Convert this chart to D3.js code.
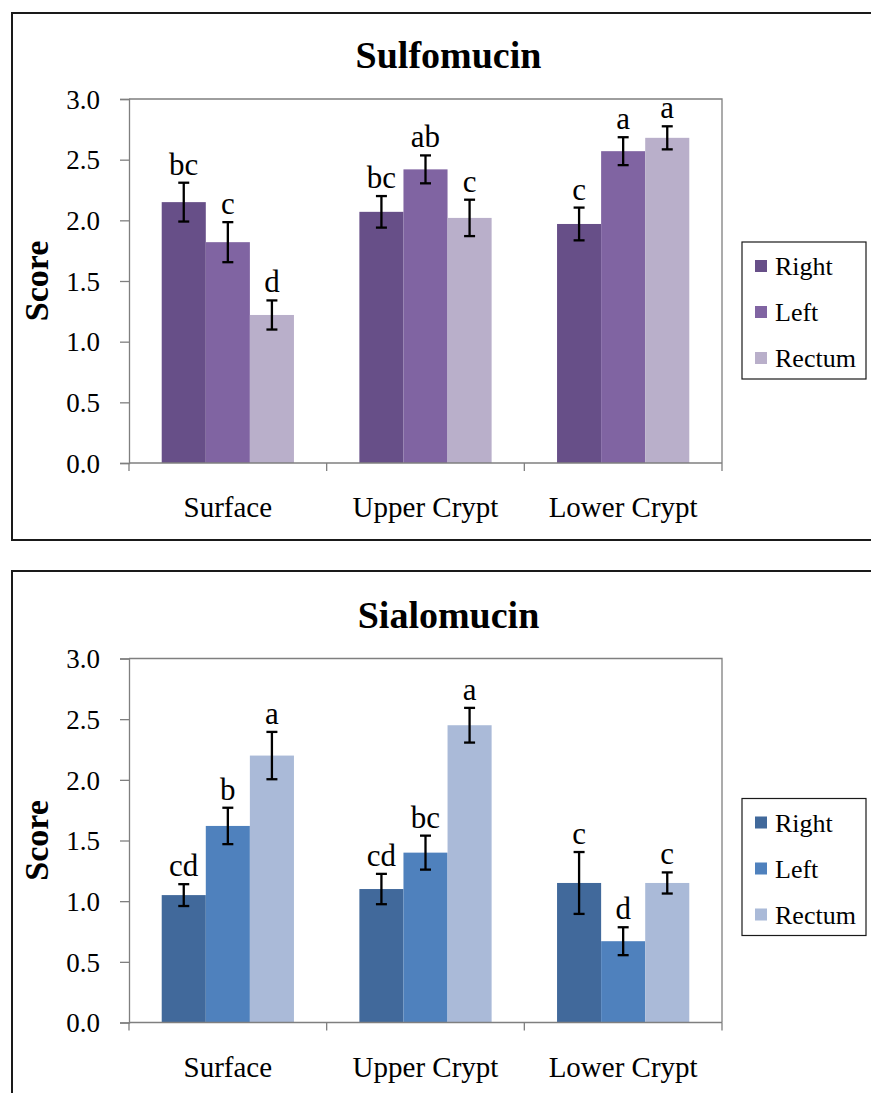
<!DOCTYPE html>
<html>
<head>
<meta charset="utf-8">
<script src="https://cdn.jsdelivr.net/npm/d3@7"></script>
<style>
  html, body { margin: 0; padding: 0; background: #fff; }
  svg { display: block; }
</style>
</head>
<body>
<svg id="chart" width="871" height="1093"></svg>
<script>
// Regions of the colon crypt and the three sampling sites
const categories = ["Surface", "Upper Crypt", "Lower Crypt"];
const series = ["Right", "Left", "Rectum"];
const yTicks = [0, 0.5, 1.0, 1.5, 2.0, 2.5, 3.0];

// Sulfomucin scores (mean, SE) and significance letters
const sulfoRight = [2.15, 2.07, 1.97];
const sulfoLeft = [1.82, 2.42, 2.57];
const sulfoRectum = [1.22, 2.02, 2.68];
const sulfoRightErr = [0.16, 0.13, 0.135];
const sulfoLeftErr = [0.165, 0.115, 0.115];
const sulfoRectumErr = [0.12, 0.15, 0.095];
const sulfoRightLetters = ["bc", "bc", "c"];
const sulfoLeftLetters = ["c", "ab", "a"];
const sulfoRectumLetters = ["d", "c", "a"];

// Sialomucin scores (mean, SE) and significance letters
const sialoRight = [1.05, 1.10, 1.15];
const sialoLeft = [1.62, 1.40, 0.67];
const sialoRectum = [2.20, 2.45, 1.15];
const sialoRightErr = [0.09, 0.125, 0.255];
const sialoLeftErr = [0.15, 0.14, 0.115];
const sialoRectumErr = [0.195, 0.143, 0.087];
const sialoRightLetters = ["cd", "cd", "c"];
const sialoLeftLetters = ["b", "bc", "d"];
const sialoRectumLetters = ["a", "a", "c"];

const sulfoColors = ["#674f88", "#8064a2", "#b9afca"];
const sialoColors = ["#41699b", "#4f81bd", "#aabad8"];

const SERIF = "'Liberation Serif', 'Times New Roman', Times, Tinos, 'DejaVu Serif', 'Noto Serif', serif";

const svg = d3.select("#chart").attr("font-family", SERIF);

function drawPanel(opts) {
  const g = svg.append("g").attr("transform", `translate(0,${opts.offsetY})`);

  // outer chart frame (extends past the page on the right)
  g.append("rect")
    .attr("x", 12).attr("y", opts.frameTop)
    .attr("width", 900).attr("height", opts.frameHeight)
    .attr("fill", "none").attr("stroke", "#1a1a1a").attr("stroke-width", 2);

  const plot = { left: 129, right: 722, top: 99, bottom: 463 };

  const x0 = d3.scaleBand().domain(categories)
    .range([plot.left, plot.right])
    .paddingInner(0.331).paddingOuter(0.1655);
  const x1 = d3.scaleBand().domain(series).range([0, x0.bandwidth()]).padding(0);
  const y = d3.scaleLinear().domain([0, 3]).range([plot.bottom, plot.top]);

  // plot-area border (top and right)
  g.append("path")
    .attr("d", `M${plot.left},${plot.top}H${plot.right}V${plot.bottom}`)
    .attr("fill", "none").attr("stroke", "#7f7f7f").attr("stroke-width", 1.3);

  const rows = [];
  categories.forEach((c, i) => {
    series.forEach((s, j) => {
      rows.push({ cat: c, ser: s, j: j,
        value: opts.values[j][i], err: opts.errs[j][i], letter: opts.letters[j][i] });
    });
  });
  const cx = d => x0(d.cat) + x1(d.ser) + x1.bandwidth() / 2;

  // bars
  g.selectAll("rect.bar").data(rows).join("rect")
    .attr("class", "bar")
    .attr("x", d => x0(d.cat) + x1(d.ser))
    .attr("width", x1.bandwidth())
    .attr("y", d => y(d.value))
    .attr("height", d => y(0) - y(d.value))
    .attr("fill", d => opts.colors[d.j]);

  // error bars
  const cap = 5.5;
  const eb = g.selectAll("g.err").data(rows).join("g").attr("class", "err")
    .attr("stroke", "#000").attr("stroke-width", 2.3);
  eb.append("line")
    .attr("x1", cx).attr("x2", cx)
    .attr("y1", d => y(d.value + d.err)).attr("y2", d => y(d.value - d.err));
  eb.append("line")
    .attr("x1", d => cx(d) - cap).attr("x2", d => cx(d) + cap)
    .attr("y1", d => y(d.value + d.err)).attr("y2", d => y(d.value + d.err));
  eb.append("line")
    .attr("x1", d => cx(d) - cap).attr("x2", d => cx(d) + cap)
    .attr("y1", d => y(d.value - d.err)).attr("y2", d => y(d.value - d.err));

  // significance letters
  g.selectAll("text.letter").data(rows).join("text")
    .attr("class", "letter")
    .attr("x", cx)
    .attr("y", d => y(d.value + d.err) - 8)
    .attr("text-anchor", "middle")
    .attr("font-family", SERIF)
    .attr("font-size", 31)
    .text(d => d.letter);

  // y axis
  const yAxis = g.append("g").attr("transform", `translate(${plot.left},0)`)
    .call(d3.axisLeft(y).tickValues(yTicks).tickFormat(d3.format(".1f"))
      .tickSize(9).tickPadding(20));
  yAxis.attr("font-family", SERIF);
  yAxis.select(".domain").attr("stroke", "#7f7f7f").attr("stroke-width", 1.3);
  yAxis.selectAll(".tick line").attr("stroke", "#7f7f7f").attr("stroke-width", 1.3);
  yAxis.selectAll(".tick text")
    .attr("font-family", SERIF).attr("font-size", 27)
    .attr("fill", "#000")
    .attr("dy", "0.34em");

  // x axis with ticks at category boundaries
  const xAxis = g.append("g").attr("transform", `translate(0,${plot.bottom})`);
  xAxis.append("line").attr("x1", plot.left).attr("x2", plot.right)
    .attr("stroke", "#7f7f7f").attr("stroke-width", 1.3);
  const bounds = categories.map(c => x0(c) - x0.step() * 0.331 / 2)
    .concat([plot.right]);
  xAxis.selectAll("line.tk").data(bounds).join("line").attr("class", "tk")
    .attr("x1", d => d).attr("x2", d => d).attr("y1", 0).attr("y2", 8)
    .attr("stroke", "#7f7f7f").attr("stroke-width", 1.3);
  xAxis.selectAll("text.cat").data(categories).join("text").attr("class", "cat")
    .attr("x", d => x0(d) + x0.bandwidth() / 2)
    .attr("y", 54)
    .attr("text-anchor", "middle")
    .attr("font-family", SERIF)
    .attr("font-size", 29)
    .text(d => d);

  // y-axis title
  g.append("text")
    .attr("transform", `translate(48,${(plot.top + plot.bottom) / 2}) rotate(-90)`)
    .attr("text-anchor", "middle")
    .attr("font-family", SERIF)
    .attr("font-weight", "bold").attr("font-size", 34)
    .text("Score");

  // chart title
  g.append("text")
    .attr("x", 448.5).attr("y", 68)
    .attr("text-anchor", "middle")
    .attr("font-family", SERIF)
    .attr("font-weight", "bold").attr("font-size", 38)
    .text(opts.title);

  // legend
  const lg = g.append("g").attr("transform", `translate(742,${opts.legendTop})`);
  lg.append("rect").attr("width", 124).attr("height", 137)
    .attr("fill", "#fff").attr("stroke", "#1a1a1a").attr("stroke-width", 1.2);
  series.forEach((s, j) => {
    const row = lg.append("g").attr("transform", `translate(0,${24 + j * 46})`);
    row.append("rect").attr("x", 13).attr("y", -6).attr("width", 12).attr("height", 12)
      .attr("fill", opts.colors[j]);
    row.append("text").attr("x", 33).attr("y", 9)
      .attr("font-family", SERIF).attr("font-size", 26).text(s);
  });
}

drawPanel({
  title: "Sulfomucin", offsetY: 0, frameTop: 13, frameHeight: 527, legendTop: 242,
  values: [sulfoRight, sulfoLeft, sulfoRectum],
  errs: [sulfoRightErr, sulfoLeftErr, sulfoRectumErr],
  letters: [sulfoRightLetters, sulfoLeftLetters, sulfoRectumLetters],
  colors: sulfoColors
});

drawPanel({
  title: "Sialomucin", offsetY: 559.5, frameTop: 11.5, frameHeight: 600, legendTop: 239,
  values: [sialoRight, sialoLeft, sialoRectum],
  errs: [sialoRightErr, sialoLeftErr, sialoRectumErr],
  letters: [sialoRightLetters, sialoLeftLetters, sialoRectumLetters],
  colors: sialoColors
});
</script>
</body>
</html>
